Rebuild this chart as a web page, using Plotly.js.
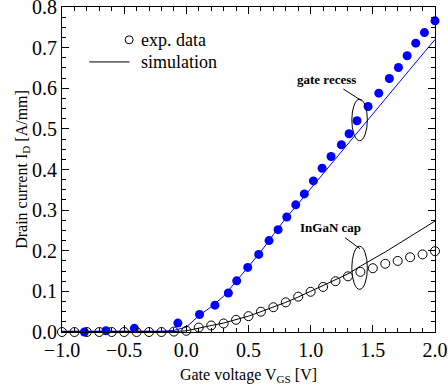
<!DOCTYPE html>
<html>
<head>
<meta charset="utf-8">
<script src="https://cdn.plot.ly/plotly-3.0.1.min.js"></script>
<style>html,body{margin:0;padding:0;background:#fff;}#chart{width:448px;height:389px;}</style>
</head>
<body>
<div id="chart"></div>
<script>
// Gate recess: experimental data (filled blue circles)
const recessExpV = [-0.82, -0.646, -0.418, -0.068, 0.106, 0.230, 0.338, 0.405, 0.494, 0.582, 0.665, 0.738, 0.808, 0.880, 0.949, 1.022, 1.092, 1.164, 1.247, 1.309, 1.373, 1.462, 1.548, 1.633, 1.706, 1.776, 1.845, 1.915, 2.000];
const recessExpI = [0.000, 0.003, 0.009, 0.022, 0.043, 0.066, 0.096, 0.126, 0.159, 0.191, 0.225, 0.252, 0.283, 0.313, 0.340, 0.372, 0.403, 0.432, 0.461, 0.488, 0.520, 0.555, 0.588, 0.624, 0.651, 0.680, 0.711, 0.737, 0.766];
// Gate recess: simulation (blue line)
const recessSimV = [-1.0, -0.2, -0.1, 0.0, 0.1, 0.2, 0.3, 0.4, 0.5, 0.6, 0.7, 0.8, 0.9, 1.0, 1.2, 1.4, 1.6, 1.8, 2.0];
const recessSimI = [0.002, 0.002, 0.004, 0.012, 0.040, 0.062, 0.088, 0.124, 0.160, 0.198, 0.240, 0.280, 0.316, 0.353, 0.426, 0.500, 0.573, 0.647, 0.720];
// InGaN cap: experimental data (open black circles)
const capExpV = [-1.0, -0.9, -0.8, -0.7, -0.6, -0.5, -0.4, -0.3, -0.2, -0.1, 0.0, 0.1, 0.2, 0.3, 0.4, 0.5, 0.6, 0.7, 0.8, 0.9, 1.0, 1.1, 1.2, 1.3, 1.4, 1.5, 1.6, 1.7, 1.8, 1.9, 2.0];
const capExpI = [0, 0, 0, 0, 0, 0, 0, 0, 0, 0.001, 0.003, 0.011, 0.016, 0.021, 0.030, 0.039, 0.050, 0.061, 0.073, 0.087, 0.099, 0.111, 0.125, 0.137, 0.148, 0.157, 0.168, 0.175, 0.184, 0.191, 0.199];
// InGaN cap: simulation (black line)
const capSimV = [-1.0, -0.1, 0.0, 0.1, 0.2, 0.3, 0.4, 0.5, 0.6, 0.7, 0.8, 0.9, 1.0, 1.1, 1.2, 1.3, 1.4, 1.6, 1.8, 2.0];
const capSimI = [0.001, 0.001, 0.003, 0.010, 0.016, 0.022, 0.030, 0.039, 0.050, 0.061, 0.073, 0.086, 0.100, 0.114, 0.128, 0.143, 0.162, 0.197, 0.235, 0.273];

const xTickVals = [-1.0, -0.5, 0.0, 0.5, 1.0, 1.5, 2.0];
const yTickVals = [0.0, 0.1, 0.2, 0.3, 0.4, 0.5, 0.6, 0.7, 0.8];

const legendLabels = ["exp. data", "simulation"];
const annRecess = "gate recess";
const annCap = "InGaN cap";

const FONT = "'Liberation Serif', 'Times New Roman', serif";

const traces = [
  {x: recessSimV, y: recessSimI, mode: "lines", line: {color: "#0000ff", width: 1}, showlegend: false, cliponaxis: false},
  {x: capSimV, y: capSimI, mode: "lines", line: {color: "#000000", width: 1}, showlegend: false, cliponaxis: false},
  {x: capExpV, y: capExpI, mode: "markers", marker: {symbol: "circle-open", size: 9, color: "#000000", line: {width: 1, color: "#000000"}}, showlegend: false, cliponaxis: false},
  {x: recessExpV, y: recessExpI, mode: "markers", marker: {symbol: "circle", size: 9, color: "#0000ff"}, showlegend: false, cliponaxis: false}
];

const axisCommon = {
  showline: true, linecolor: "#000", linewidth: 1, mirror: "allticks",
  ticks: "inside", ticklen: 7, tickwidth: 1, tickcolor: "#000",
  showgrid: false, zeroline: false,
  tickfont: {family: FONT, size: 20, color: "#000"},
  tickformat: ".1f",
  ticklabeloverflow: "allow"
};

const layout = {
  width: 448, height: 389,
  margin: {l: 62, r: 13, t: 7, b: 57},
  paper_bgcolor: "#fff", plot_bgcolor: "#fff",
  font: {family: FONT, color: "#000"},
  showlegend: false,
  xaxis: Object.assign({}, axisCommon, {
    range: [-1, 2], tickvals: xTickVals,
    minor: {dtick: 0.1, ticks: "inside", ticklen: 4, tickcolor: "#000", showgrid: false},
    title: {text: "Gate voltage V<sub>GS</sub> [V]", font: {family: FONT, size: 16, color: "#000"}, standoff: 8}
  }),
  yaxis: Object.assign({}, axisCommon, {
    range: [0, 0.8], tickvals: yTickVals,
    minor: {dtick: 0.025, ticks: "inside", ticklen: 4, tickcolor: "#000", showgrid: false},
    title: {text: "Drain current I<sub>D</sub> [A/mm]", font: {family: FONT, size: 16, color: "#000"}, standoff: 0}
  }),
  shapes: [
    // legend
    {type: "line", xref: "paper", yref: "paper", x0: 0.073, x1: 0.181, y0: 0.831, y1: 0.831, line: {color: "#000", width: 1}},
    {type: "circle", xref: "paper", yref: "paper", xsizemode: "pixel", ysizemode: "pixel", xanchor: 0.180, yanchor: 0.899, x0: -4, x1: 4, y0: -4, y1: 4, line: {color: "#000", width: 1}},
    // gate recess pointer and ellipse
    {type: "line", xref: "x", yref: "y", x0: 1.263, y0: 0.598, x1: 1.411, y1: 0.569, line: {color: "#000", width: 1}},
    {type: "circle", xref: "x", yref: "y", x0: 1.331, x1: 1.456, y0: 0.471, y1: 0.573, line: {color: "#000", width: 1}},
    // InGaN cap pointer and ellipse
    {type: "line", xref: "x", yref: "y", x0: 1.277, y0: 0.232, x1: 1.397, y1: 0.205, line: {color: "#000", width: 1}},
    {type: "circle", xref: "x", yref: "y", x0: 1.331, x1: 1.456, y0: 0.105, y1: 0.211, line: {color: "#000", width: 1}}
  ],
  annotations: [
    {xref: "paper", yref: "paper", x: 0.207, y: 0.899, xanchor: "left", yanchor: "middle", text: legendLabels[0], showarrow: false, font: {family: FONT, size: 18, color: "#000"}},
    {xref: "paper", yref: "paper", x: 0.207, y: 0.831, xanchor: "left", yanchor: "middle", text: legendLabels[1], showarrow: false, font: {family: FONT, size: 18, color: "#000"}},
    {xref: "x", yref: "y", x: 1.129, y: 0.622, xanchor: "center", yanchor: "middle", text: "<b>" + annRecess + "</b>", showarrow: false, font: {family: FONT, size: 13, color: "#000"}},
    {xref: "x", yref: "y", x: 1.159, y: 0.258, xanchor: "center", yanchor: "middle", text: "<b>" + annCap + "</b>", showarrow: false, font: {family: FONT, size: 13, color: "#000"}}
  ]
};

Plotly.newPlot("chart", traces, layout, {displayModeBar: false, staticPlot: true});
</script>
</body>
</html>
